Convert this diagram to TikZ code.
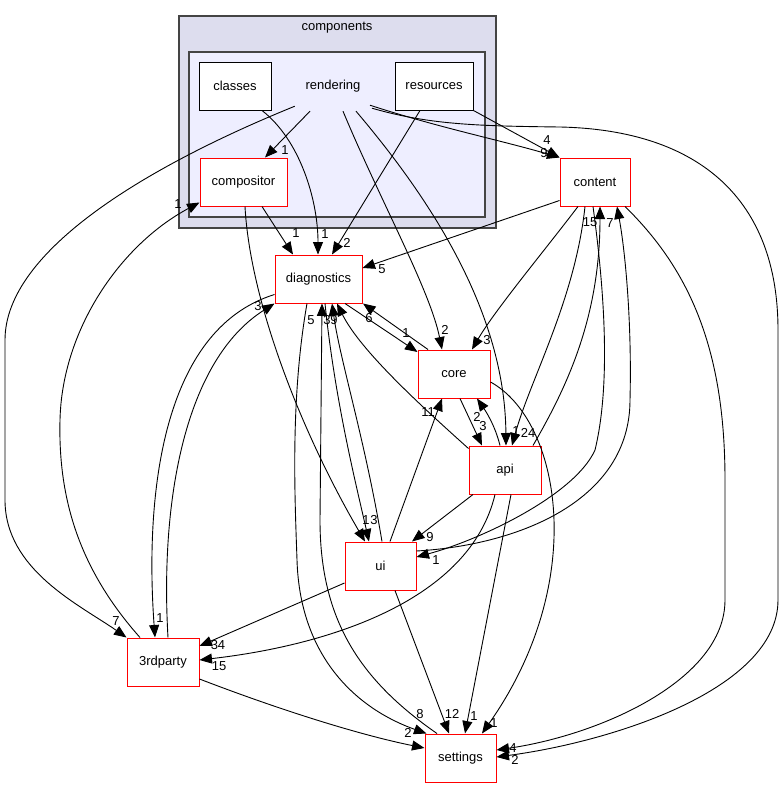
\documentclass[tikz,border=0pt]{standalone}
\usepackage{fontspec}
\setmainfont{Liberation Sans}
\usetikzlibrary{arrows.meta}
\definecolor{clouter}{HTML}{DDDDEE}
\definecolor{clinner}{HTML}{EEEEFF}
\definecolor{clborder}{HTML}{444444}
\begin{document}
\begin{tikzpicture}[x=1pt,y=-1pt,
  txt/.style={font=\fontsize{13}{15}\selectfont},
  dirbox/.style={txt, draw=red, line width=1pt, fill=white, minimum height=48pt, inner sep=0pt},
  subbox/.style={txt, draw=black, line width=1pt, fill=white, minimum height=48pt, inner sep=0pt},
  clus/.style={draw=clborder, line width=1.5pt},
  dep/.style={-{Triangle[length=12.5pt,width=10pt]}, line width=0.9pt},
  lbl/.style={txt, inner sep=0pt}]
\useasboundingbox (0,0) rectangle (784,788);
\fill[white] (0,0) rectangle (784,788);
% clusters
\draw[clus, fill=clouter] (179,16) rectangle (496,228);
\node[txt] (components) at (337,28) {components};
\draw[clus, fill=clinner] (189,52) rectangle (485,217);
\node[txt, minimum width=80pt, minimum height=50pt, inner sep=0pt] (rendering) at (333,86) {rendering};
% nodes
\node[subbox, minimum width=72pt] (classes) at (235,86) {classes};
\node[subbox, minimum width=78pt] (resources) at (434,86) {resources};
\node[dirbox, minimum width=87pt] (compositor) at (243.5,182) {compositor};
\node[dirbox, minimum width=70pt] (content) at (595,182) {content};
\node[dirbox, minimum width=87pt] (diagnostics) at (318.5,279) {diagnostics};
\node[dirbox, minimum width=72pt] (core) at (454,374) {core};
\node[dirbox, minimum width=72pt] (api) at (505,470) {api};
\node[dirbox, minimum width=71pt] (ui) at (380.5,566) {ui};
\node[dirbox, minimum width=72pt] (thirdparty) at (163,662) {3rdparty};
\node[dirbox, minimum width=71pt] (settings) at (460.5,758) {settings};
% edges
\draw[dep] ([xshift=-23pt]rendering.south) -- ([xshift=21.5pt]compositor.north);
\node[lbl] at (285,150) {1};
\draw[dep] ([xshift=2pt,yshift=5pt]rendering.south west) .. controls (150,165) and (5,250) .. (5,340) -- (5,500) .. controls (5,570) and (80,605) .. (thirdparty.north west);
\node[lbl] at (116,621) {7};
\draw[dep] ([xshift=-23pt]thirdparty.north) .. controls (80,570) and (58,500) .. (60,420) .. controls (62,330) and (120,245) .. ([yshift=4pt]compositor.south west);
\node[lbl] at (178,204) {1};
\draw[dep] ([yshift=9pt]diagnostics.south west) .. controls (160,330) and (145,500) .. ([xshift=-8pt]thirdparty.north);
\node[lbl] at (160,618) {1};
\draw[dep] ([xshift=5pt]thirdparty.north) .. controls (160,500) and (185,360) .. (diagnostics.south west);
\node[lbl] at (258,306) {3};
\draw[dep] ([xshift=18.5pt]compositor.south) -- ([xshift=-25.5pt]diagnostics.north);
\node[lbl] at (296,233) {1};
\draw[dep] ([xshift=1.5pt]compositor.south) .. controls (250,300) and (300,430) .. ([xshift=-15.5pt]ui.north);
\node[lbl] at (366,520) {1};
\draw[dep] ([xshift=27pt]classes.south) .. controls (300,140) and (318,200) .. ([xshift=-0.5pt]diagnostics.north);
\node[lbl] at (325,234) {1};
\draw[dep] ([xshift=-14pt]resources.south) -- ([xshift=13.5pt]diagnostics.north);
\node[lbl] at (347,243) {2};
\draw[dep] ([xshift=10pt]rendering.south) .. controls (380,200) and (430,290) .. ([xshift=-12pt]core.north);
\node[lbl] at (445,330) {2};
\draw[dep] ([xshift=23pt]rendering.south) .. controls (440,210) and (505,320) .. ([xshift=1pt]api.north);
\node[lbl] at (516,431) {1};
\draw[dep] ([xshift=37pt,yshift=6pt]rendering.south) .. controls (440,128) and (500,140) .. (content.north west);
\node[lbl] at (544,153) {9};
\draw[dep] (resources.south east) -- (content.north west);
\node[lbl] at (547,140) {4};
\draw[dep] ([xshift=39pt,yshift=3pt]rendering.south) .. controls (430,125) and (480,126) .. (560,127) .. controls (700,130) and (778,200) .. (778,330) -- (778,600) .. controls (778,690) and (610,742) .. ([yshift=1pt]settings.east);
\node[lbl] at (515,760) {2};
\draw[dep] ([xshift=30pt]content.south) .. controls (690,270) and (725,350) .. (725,480) -- (725,600) .. controls (725,680) and (600,735) .. ([yshift=8pt]settings.east);
\node[lbl] at (513,748) {4};
\draw[dep] ([yshift=6pt]content.south west) -- ([yshift=11pt]diagnostics.east);
\node[lbl] at (382,269) {5};
\draw[dep] ([xshift=-17pt]content.south) .. controls (545,250) and (495,310) .. ([xshift=18pt]core.north);
\node[lbl] at (487,340) {3};
\draw[dep] ([xshift=-10pt]content.south) .. controls (575,300) and (530,380) .. ([xshift=7pt]api.north);
\node[lbl] at (528,433) {24};
\draw[dep] ([xshift=28pt]api.north) .. controls (565,390) and (600,320) .. ([xshift=5pt]content.south);
\node[lbl] at (590,222) {15};
\draw[dep] ([xshift=-2pt]content.south) .. controls (603,280) and (612,380) .. (595,450) .. controls (575,495) and (480,540) .. ([yshift=9pt]ui.east);
\node[lbl] at (436,560) {1};
\draw[dep] ([yshift=15pt]ui.east) .. controls (520,545) and (630,500) .. (630,400) .. controls (632,320) and (625,250) .. ([xshift=22pt]content.south);
\node[lbl] at (610,223) {7};
\draw[dep] ([xshift=26.5pt]diagnostics.south) -- ([yshift=22pt]core.west);
\node[lbl] at (406,333) {1};
\draw[dep] ([xshift=-26pt]core.north) -- ([xshift=44.5pt]diagnostics.south);
\node[lbl] at (369,318) {6};
\draw[dep] ([yshift=-3pt]api.north west) .. controls (420,405) and (360,350) .. ([xshift=18.5pt]diagnostics.south);
\node[lbl] at (334,320) {9};
\draw[dep] ([xshift=1.5pt]ui.north) .. controls (365,440) and (340,360) .. ([xshift=13.5pt]diagnostics.south);
\node[lbl] at (327,320) {3};
\draw[dep] ([xshift=6.5pt]diagnostics.south) .. controls (335,400) and (355,480) .. ([xshift=-11.5pt]ui.north);
\node[lbl] at (374,520) {3};
\draw[dep] ([xshift=-23.5pt]settings.north) .. controls (360,680) and (320,620) .. (320,520) -- ([xshift=3.5pt]diagnostics.south);
\node[lbl] at (311,320) {5};
\draw[dep] ([xshift=-11.5pt]diagnostics.south) .. controls (290,400) and (295,500) .. (297,560) .. controls (300,660) and (360,710) .. ([xshift=2pt]settings.north west);
\node[lbl] at (420,714) {8};
\draw[dep] ([xshift=6pt]core.south) -- ([xshift=-23pt]api.north);
\node[lbl] at (483,426) {3};
\draw[dep] ([xshift=-5pt]api.north) .. controls (495,425) and (485,410) .. ([xshift=23pt]core.south);
\node[lbl] at (477,417) {2};
\draw[dep] ([xshift=9.5pt]ui.north) -- ([xshift=-12pt]core.south);
\node[lbl] at (428,412) {11};
\draw[dep] ([xshift=-32pt]api.south) -- ([xshift=31.5pt]ui.north);
\node[lbl] at (430,537) {9};
\draw[dep] ([yshift=-17pt]ui.west) -- ([yshift=16pt]thirdparty.east);
\node[lbl] at (218,645) {34};
\draw[dep] ([xshift=-10pt]api.south) .. controls (470,600) and (330,645) .. ([yshift=2pt]thirdparty.east);
\node[lbl] at (219,666) {15};
\draw[dep] ([xshift=14.5pt]ui.south) -- ([xshift=-11.5pt]settings.north);
\node[lbl] at (452,714) {12};
\draw[dep] ([xshift=6pt]api.south) -- ([xshift=4.5pt]settings.north);
\node[lbl] at (474,716) {1};
\draw[dep] ([yshift=-8pt]core.east) .. controls (560,420) and (590,580) .. ([xshift=21.5pt]settings.north);
\node[lbl] at (494,723) {1};
\draw[dep] ([yshift=-17pt]thirdparty.east) .. controls (280,710) and (360,735) .. ([yshift=10pt]settings.west);
\node[lbl] at (408,733) {2};
\end{tikzpicture}
\end{document}
